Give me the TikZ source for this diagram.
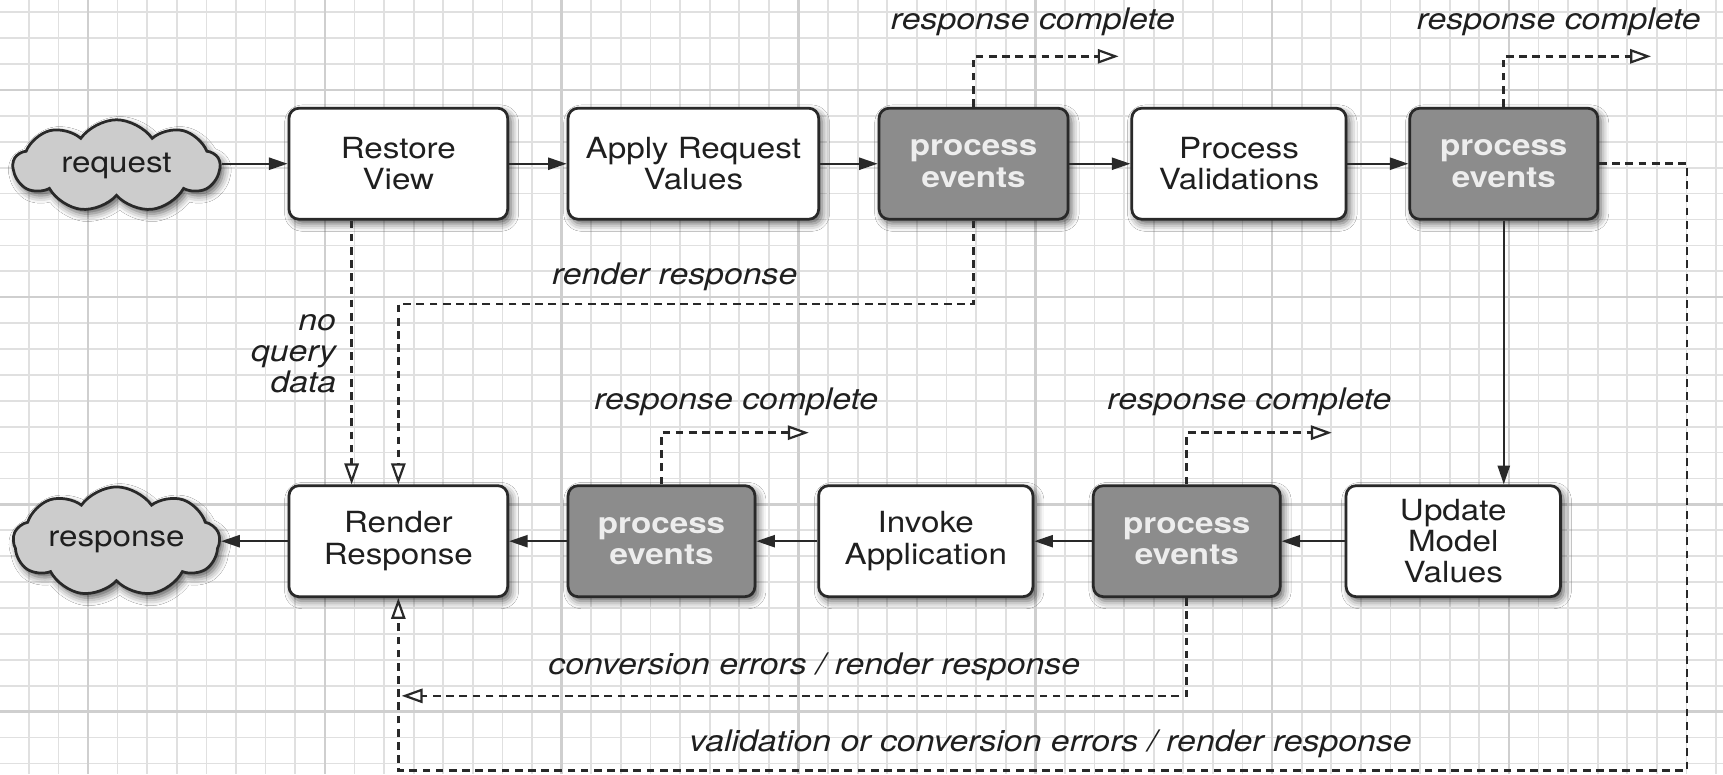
\documentclass[tikz,border=0pt]{standalone}
\usepackage{fontspec}
\setmainfont{TeX Gyre Heros}[FakeStretch=1.14]
\usetikzlibrary{arrows.meta,shapes.symbols,shadows.blur,calc}
\definecolor{ink}{gray}{0.16}
\definecolor{gridminor}{gray}{0.88}
\definecolor{gridmajor}{gray}{0.81}
\definecolor{darkfill}{gray}{0.55}
\definecolor{cloudfill}{gray}{0.80}
\begin{document}
\begin{tikzpicture}[x=1pt,y=-1pt,
  txt/.style={font=\fontsize{26.5}{28.5}\selectfont},
  box/.style={txt, draw=ink, line width=2.5pt, rounded corners=9pt, fill=white,
    minimum height=101pt, align=center, text=black!88, inner sep=0pt,
    blur shadow={shadow xshift=3pt, shadow yshift=-4pt, shadow blur radius=7pt, shadow opacity=65}},
  darkbox/.style={box, fill=darkfill, text=white!93!black, font=\fontsize{26.5}{28.5}\selectfont\bfseries},
  cloudnode/.style={txt, cloud, cloud puffs=9, cloud puff arc=110, aspect=2.4, draw=ink,
    fill=cloudfill, line width=2.5pt, inner sep=0pt, minimum width=188pt, minimum height=84pt,
    text=black!88,
    blur shadow={shadow xshift=3pt, shadow yshift=-4pt, shadow blur radius=7pt, shadow opacity=65}},
  flow/.style={draw=ink, line width=2pt, -{Triangle[length=17pt,width=11pt]}},
  alt/.style={draw=ink, line width=2.4pt, dash pattern=on 7pt off 5pt,
    -{Triangle[open, fill=white, length=19pt, width=13pt, line width=2pt]}},
  lbl/.style={font=\fontsize{27}{28.5}\selectfont\itshape, text=black!88, inner sep=0pt}
]
\useasboundingbox (0,0) rectangle (1568,704.4);
\fill[white] (0,0) rectangle (1568,704.4);
% background grid
\foreach \k in {0,...,57}
  \draw[gridminor, line width=1.6pt] ({26.2+26.94*\k},0) -- ({26.2+26.94*\k},704.4);
\foreach \k in {0,...,29}
  \draw[gridminor, line width=1.6pt] (0,{11.2+23.57*\k}) -- (1568,{11.2+23.57*\k});
\foreach \k in {2,10,...,50}
  \draw[gridmajor, line width=2.2pt] ({26.2+26.94*\k},0) -- ({26.2+26.94*\k},704.4);
\foreach \k in {3,11,19,27}
  \draw[gridmajor, line width=2.2pt] (0,{11.2+23.57*\k}) -- (1568,{11.2+23.57*\k});

% top row
\node[cloudnode] (req) at (106,151) {request};
\node[box, minimum width=199pt] (rv) at (362.5,149) {Restore\\View};
\node[box, minimum width=228pt] (arv) at (631,149) {Apply Request\\Values};
\node[darkbox, minimum width=172pt] (pe1) at (886,149) {process\\events};
\node[box, minimum width=195pt] (pv) at (1127.5,149) {Process\\Validations};
\node[darkbox, minimum width=171pt] (pe2) at (1368.5,149) {process\\events};

% bottom row
\node[cloudnode] (resp) at (106,493) {response};
\node[box, minimum width=199pt] (rr) at (362.5,492.5) {Render\\Response};
\node[darkbox, minimum width=170pt] (pe4) at (602,492.5) {process\\events};
\node[box, minimum width=195pt] (ia) at (842.5,492.5) {Invoke\\Application};
\node[darkbox, minimum width=170pt] (pe3) at (1080,492.5) {process\\events};
\node[box, minimum width=195pt] (umv) at (1322.5,492.5) {Update\\Model\\Values};

% main flow
\draw[flow] (req.east |- rv.west) -- (rv.west);
\draw[flow] (rv) -- (arv);
\draw[flow] (arv) -- (pe1);
\draw[flow] (pe1) -- (pv);
\draw[flow] (pv) -- (pe2);
\draw[flow] (pe2.south) -- (pe2.south |- umv.north);
\draw[flow] (umv) -- (pe3);
\draw[flow] (pe3) -- (ia);
\draw[flow] (ia) -- (pe4);
\draw[flow] (pe4) -- (rr);
\draw[flow] (rr.west) -- (resp.east |- rr.west);

% response complete branches
\coordinate (t1) at ($(pe1.north)+(132,-46)$);
\draw[alt] (pe1.north) |- (t1);
\node[lbl] (l1) at ($(pe1.north)+(54,-77)$) {response complete};
\coordinate (t2) at ($(pe2.north)+(134,-46)$);
\draw[alt] (pe2.north) |- (t2);
\node[lbl] (l2) at ($(pe2.north)+(50,-77)$) {response complete};
\coordinate (t4) at ($(pe4.north)+(134,-47)$);
\draw[alt] (pe4.north) |- (t4);
\node[lbl] (l4) at ($(pe4.north)+(68,-75)$) {response complete};
\coordinate (t3) at ($(pe3.north)+(132,-47)$);
\draw[alt] (pe3.north) |- (t3);
\node[lbl] (l3) at ($(pe3.north)+(57,-75)$) {response complete};

% no query data
\draw[alt] ($(rv.south)+(-42.5,0)$) -- ($(rr.north)+(-42.5,0)$);
\node[lbl, align=right, anchor=east] (nq) at (306,322) {no\\query\\data};

% render response
\draw[alt] (pe1.south) |- ($(rr.north)+(0,-164)$) -- (rr.north);
\node[lbl] (lr) at (614,252) {render response};

% conversion errors
\coordinate (ce) at ($(rr.south)+(3,89)$);
\draw[alt] (pe3.south) |- (ce);
\node[lbl] (lce) at (741,607) {conversion errors / render response};

% validation or conversion errors
\draw[alt] (pe2.east) -- ++(80,0) |- ($(rr.south)+(0,157)$) -- (rr.south);
\node[lbl] (lv) at (956,677) {validation or conversion errors / render response};
\end{tikzpicture}
\end{document}
